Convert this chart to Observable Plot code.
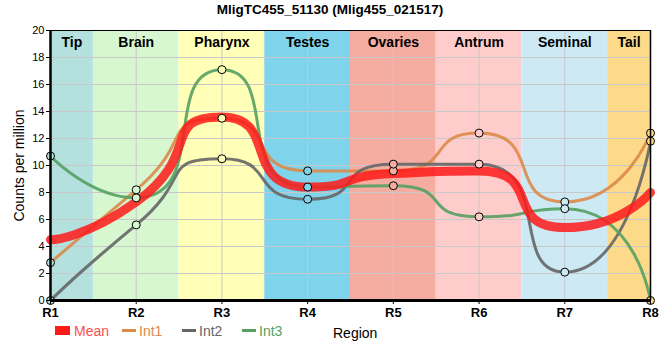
<!DOCTYPE html>
<html>
<head>
<meta charset="utf-8">
<script src="https://cdn.jsdelivr.net/npm/d3@7"></script>
<script src="https://cdn.jsdelivr.net/npm/@observablehq/plot@0.6"></script>
<style>
  body { margin: 0; background: #fff; font-family: "Liberation Sans Narrow", "Liberation Sans", Arial, sans-serif; }
  #wrap { position: relative; width: 660px; height: 360px; }
  #title { position: absolute; top: 0; left: 0; width: 660px; height: 20px; line-height: 20px; text-align: center; font-weight: bold; font-size: 13.5px; }
  #chart { position: absolute; top: 20px; left: 0; }
  #legend { position: absolute; top: 321px; left: 0; width: 660px; height: 20px; font-size: 14px; }
  .li { position: absolute; top: 0; line-height: 20px; }
  .sw { position: absolute; }
</style>
</head>
<body>
<div id="wrap">
  <div id="title">MligTC455_51130 (Mlig455_021517)</div>
  <div id="chart"></div>
  <div id="legend"></div>
</div>
<script>
const regionTicks = ["R1","R2","R3","R4","R5","R6","R7","R8"];
const tissues = ["Tip","Brain","Pharynx","Testes","Ovaries","Antrum","Seminal","Tail"];
const tissueColors = ["#b4e1de","#d7f7d0","#ffffb8","#7fd3eb","#f6ada1","#ffcccc","#cdeaf4","#fdd98a"];
const meanVals = [4.5, 7.3, 13.6, 8.4, 9.4, 9.6, 5.4, 8.0];
const int1 = [2.8, 8.2, 13.5, 9.6, 9.6, 12.4, 7.3, 12.4];
const int2 = [0, 5.6, 10.5, 7.5, 10.1, 10.1, 2.1, 11.8];
const int3 = [10.7, 7.6, 17.1, 8.4, 8.5, 6.2, 6.8, 0];
const seriesNames = ["Mean","Int1","Int2","Int3"];
const seriesColors = ["#ff1a1a","#dc8a48","#666666","#55a062"];
const yTicks = [0,2,4,6,8,10,12,14,16,18,20];

// smooth bezier curve (smooth factor, control points clamped to neighbour boxes)
function smoothCurve(context) {
  let pts = [];
  return {
    areaStart() {}, areaEnd() {},
    lineStart() { pts = []; },
    point(x, y) { pts.push([+x, +y]); },
    lineEnd() {
      const P = pts, N = P.length;
      if (!N) return;
      const sm = 0.7;
      context.moveTo(P[0][0], P[0][1]);
      let cpx0 = P[0][0], cpy0 = P[0][1];
      for (let i = 1; i < N; i++) {
        const [x, y] = P[i], [px, py] = P[i - 1];
        let cpx1, cpy1, ncx, ncy;
        if (i === N - 1) { cpx1 = x; cpy1 = y; }
        else {
          const [nx, ny] = P[i + 1];
          let vx = nx - px, vy = ny - py;
          const lp = Math.hypot(x - px, y - py), ln = Math.hypot(nx - x, ny - y);
          const r = ln / (ln + lp);
          ncx = x + vx * sm * r; ncy = y + vy * sm * r;
          ncx = Math.min(ncx, Math.max(nx, x)); ncy = Math.min(ncy, Math.max(ny, y));
          ncx = Math.max(ncx, Math.min(nx, x)); ncy = Math.max(ncy, Math.min(ny, y));
          vx = ncx - x; vy = ncy - y;
          cpx1 = x - vx * lp / ln; cpy1 = y - vy * lp / ln;
          cpx1 = Math.min(cpx1, Math.max(px, x)); cpy1 = Math.min(cpy1, Math.max(py, y));
          cpx1 = Math.max(cpx1, Math.min(px, x)); cpy1 = Math.max(cpy1, Math.min(py, y));
          vx = x - cpx1; vy = y - cpy1;
          ncx = x + vx * ln / lp; ncy = y + vy * ln / lp;
        }
        context.bezierCurveTo(cpx0, cpy0, cpx1, cpy1, x, y);
        cpx0 = ncx; cpy0 = ncy;
      }
    }
  };
}

const n = regionTicks.length;
const bands = tissues.map((t, i) => ({name: t, x1: Math.max(1, i + 0.5), x2: Math.min(n, i + 1.5), color: tissueColors[i]}));
const toRows = (vals, s) => vals.map((v, i) => ({x: i + 1, y: v, series: s, bg: tissueColors[i]}));
const rows1 = toRows(int1, "Int1"), rows2 = toRows(int2, "Int2"), rows3 = toRows(int3, "Int3");
const rowsM = toRows(meanVals, "Mean");
const pts = [...rows1, ...rows2, ...rows3];

const plot = Plot.plot({
  width: 660, height: 320,
  marginTop: 10, marginLeft: 50, marginRight: 10, marginBottom: 40,
  style: {fontFamily: '"Liberation Sans Narrow", "Liberation Sans", Arial, sans-serif', fontSize: "11px", color: "black", background: "transparent"},
  x: {domain: [1, n]},
  y: {domain: [0, 20]},
  marks: [
    Plot.rect(bands, {x1: "x1", x2: "x2", y1: 0, y2: 20, fill: d => d.color}),
    Plot.gridY(yTicks, {stroke: "#c8c8c8", strokeOpacity: 1, strokeWidth: 1}),
    Plot.gridX(d3.range(1, n + 1), {stroke: "#c8c8c8", strokeOpacity: 1, strokeWidth: 1}),
    Plot.text(bands, {x: d => (d.x1 + d.x2) / 2, y: 20, text: "name", dy: 12, fontWeight: "bold", fontSize: 14, fill: "black"}),
    Plot.line(rows1, {x: "x", y: "y", curve: smoothCurve, stroke: seriesColors[1], strokeWidth: 3, strokeOpacity: 0.9}),
    Plot.line(rows2, {x: "x", y: "y", curve: smoothCurve, stroke: seriesColors[2], strokeWidth: 3, strokeOpacity: 0.9}),
    Plot.line(rows3, {x: "x", y: "y", curve: smoothCurve, stroke: seriesColors[3], strokeWidth: 3, strokeOpacity: 0.9}),
    Plot.line(rowsM, {x: "x", y: "y", curve: smoothCurve, stroke: seriesColors[0], strokeWidth: 9, strokeOpacity: 0.85}),
    Plot.dot(pts, {x: "x", y: "y", r: 4, fill: "bg", stroke: "black", strokeWidth: 1}),
    Plot.ruleY([20], {stroke: "black", strokeWidth: 1}),
    Plot.ruleX([n], {stroke: "black", strokeWidth: 1.5}),
    Plot.ruleX([1], {stroke: "black", strokeWidth: 2.5}),
    Plot.ruleY([0], {stroke: "black", strokeWidth: 3}),
    Plot.axisY(yTicks, {tickSize: 4, tickPadding: 2, fontSize: 11, label: "Counts per million", labelAnchor: "center", labelOffset: 36, labelArrow: "none"}),
    Plot.axisX(d3.range(1, n + 1), {tickSize: 4, tickPadding: 3, fontSize: 13, fontWeight: "bold", tickFormat: d => regionTicks[d - 1], label: null})
  ]
});
document.getElementById("chart").appendChild(plot);
plot.querySelectorAll("text").forEach(t => {
  if (t.textContent === "Counts per million") t.setAttribute("font-size", "14");
});

const legend = document.getElementById("legend");
const lx = [55, 122, 182, 242];
seriesNames.forEach((s, i) => {
  const sw = document.createElement("div");
  sw.className = "sw";
  sw.style.left = lx[i] + "px";
  if (i === 0) { sw.style.top = "5px"; sw.style.width = "15px"; sw.style.height = "9px"; }
  else { sw.style.top = "8px"; sw.style.width = "14px"; sw.style.height = "3px"; }
  sw.style.background = seriesColors[i];
  legend.appendChild(sw);
  const t = document.createElement("div");
  t.className = "li";
  t.style.left = (lx[i] + (i === 0 ? 19 : 17)) + "px";
  t.style.color = i === 0 ? "#ff4d4d" : seriesColors[i];
  t.textContent = s;
  legend.appendChild(t);
});
const reg = document.createElement("div");
reg.className = "li";
reg.style.left = "333px";
reg.style.top = "2px";
reg.textContent = "Region";
legend.appendChild(reg);
</script>
</body>
</html>
